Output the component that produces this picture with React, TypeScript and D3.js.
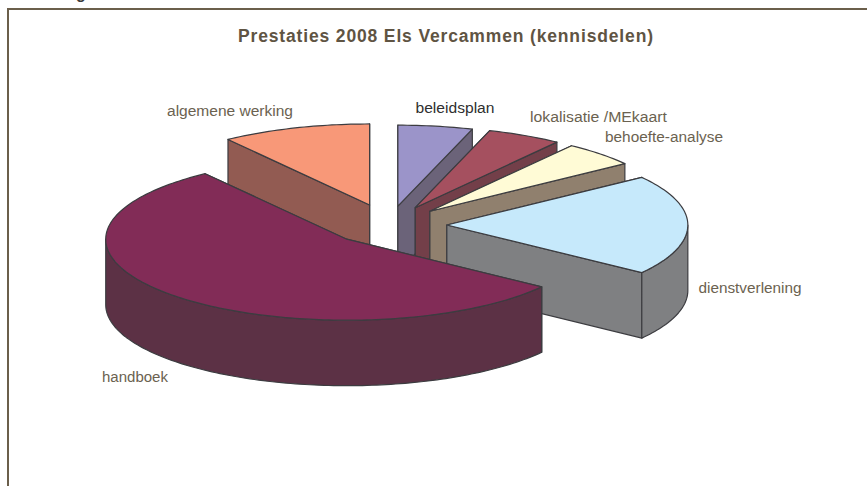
import React from "react";
import * as d3 from "d3";

const categories = ["beleidsplan", "lokalisatie /MEkaart", "behoefte-analyse", "dienstverlening", "handboek", "algemene werking"];
const values = [5, 5, 5, 20, 55, 10];
const explodeBy = [0.235, 0.24, 0.24, 0.24, 0.248, 0.26];
const topColors = ["#9B94C9", "#A5505F", "#FFFBD6", "#C6E9FB", "#822C57", "#F89878"];
const wallColors = ["#6B6379", "#733F49", "#90806E", "#7F8082", "#5C3145", "#925B52"];
const labelColors = ["#2F2F2F", "#6B6250", "#6B6250", "#6B6250", "#6B6250", "#6B6250"];
const labelX = [455, 598.5, 664, 750, 135, 230];
const labelY = [113, 122, 142, 293, 382, 116];
const labelWidth = [79, 137, 118, 103, 66, 126];
const drawOrder = [5, 0, 1, 2, 3, 4];
const title = "Prestaties 2008 Els Vercammen (kennisdelen)";

const W = 867;
const H = 486;
const cx = 389;
const cy = 225;
const rx = 241;
const ry = 81;
const depth = 65.5;
const FONT = "'Liberation Sans', Arial, sans-serif";

const px = d3.scaleLinear().domain([-1, 1]).range([cx - rx, cx + rx]);
const py = d3.scaleLinear().domain([-1, 1]).range([cy - ry, cy + ry]);
const pie = d3.pie<number>().sort(null).startAngle(0).endAngle(2 * Math.PI);
const line = d3.line<[number, number]>();

type P = [number, number];

function slicePaths(start: number, end: number, explode: number) {
  const mid = (start + end) / 2;
  const ox = explode * Math.sin(mid);
  const oy = -explode * Math.cos(mid);
  const pt = (a: number, r = 1, dz = 0): P => [
    px(ox + r * Math.sin(a)),
    py(oy - r * Math.cos(a)) + dz,
  ];
  const sample = (a0: number, a1: number) => {
    const n = Math.max(2, Math.ceil(Math.abs(a1 - a0) / 0.02));
    return d3.range(n + 1).map((i) => a0 + ((a1 - a0) * i) / n);
  };
  const apex = pt(start, 0);
  const apexLow = pt(start, 0, depth);
  const top = line([apex, ...sample(start, end).map((a) => pt(a))]) + "Z";
  const face = (a: number) =>
    line([apex, pt(a), pt(a, 1, depth), apexLow]) + "Z";
  const w0 = Math.max(start, Math.PI / 2);
  const w1 = Math.min(end, (3 * Math.PI) / 2);
  const wall =
    w1 > w0
      ? line([
          ...sample(w0, w1).map((a) => pt(a)),
          ...sample(w1, w0).map((a) => pt(a, 1, depth)),
        ]) + "Z"
      : null;
  return { top, faces: [face(start), face(end)], wall };
}

export default function App() {
  const arcs = pie(values);
  return (
    <svg
      width={W}
      height={H}
      viewBox={`0 0 ${W} ${H}`}
      style={{ position: "absolute", left: 0, top: 0, display: "block", background: "#fff" }}
    >
      <text x={81} y={-1.5} textAnchor="middle" fontFamily={FONT} fontWeight="bold" fontSize={16} fill="#3A3A3A">
        g
      </text>
      <path d={`M8 ${H}V9H${W}`} fill="none" stroke="#6B5F4B" strokeWidth={2} />
      <text
        x={445.5}
        y={41.5}
        textAnchor="middle"
        fontFamily={FONT}
        fontWeight="bold"
        fontSize={17.5}
        fill="#5F5443"
        textLength={415}
        lengthAdjust="spacing"
      >
        {title}
      </text>
      {drawOrder.map((i) => {
        const a = arcs[i];
        const s = slicePaths(a.startAngle, a.endAngle, explodeBy[i]);
        const common = { stroke: "#3C3C40", strokeWidth: 1.2, strokeLinejoin: "round" as const };
        return (
          <g key={categories[i]}>
            {s.faces.map((d, k) => (
              <path key={k} d={d} fill={wallColors[i]} {...common} />
            ))}
            {s.wall && <path d={s.wall} fill={wallColors[i]} {...common} />}
            <path d={s.top} fill={topColors[i]} {...common} />
          </g>
        );
      })}
      {categories.map((c, i) => (
        <text
          key={c}
          x={labelX[i]}
          y={labelY[i]}
          textAnchor="middle"
          fontFamily={FONT}
          fontSize={14}
          fill={labelColors[i]}
          textLength={labelWidth[i]}
          lengthAdjust="spacingAndGlyphs"
        >
          {c}
        </text>
      ))}
    </svg>
  );
}
